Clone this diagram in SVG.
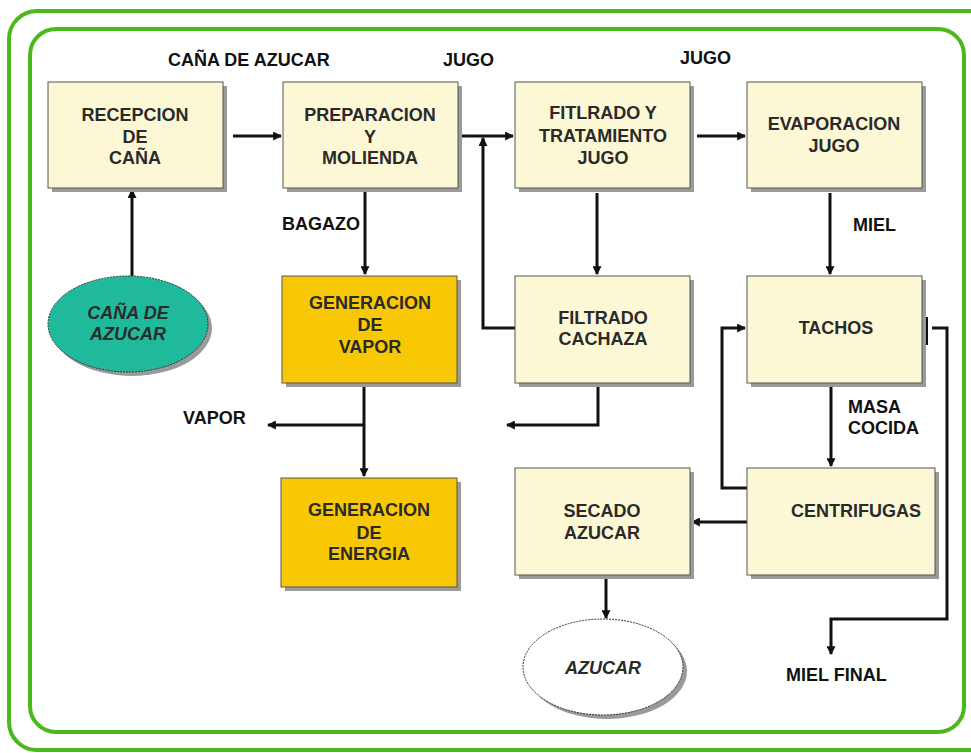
<svg xmlns="http://www.w3.org/2000/svg" width="971" height="753" viewBox="0 0 971 753">
<style>
.box{fill:#fcf8d6;stroke:#555;stroke-width:1}
.gold{fill:#f8c804;stroke:#555;stroke-width:1}
.sh{fill:#9a9a9a}
.t{font-family:"Liberation Sans",Arial,sans-serif;font-weight:bold;font-size:18px;fill:#2a2a2a;text-anchor:middle}
.l{font-family:"Liberation Sans",Arial,sans-serif;font-weight:bold;font-size:18px;fill:#111}
.c{fill:none;stroke:#111;stroke-width:3}
</style>
<defs>
<marker id="ah" viewBox="0 0 8 8" refX="7" refY="4" markerWidth="3" markerHeight="3" orient="auto" markerUnits="strokeWidth">
<path d="M0,0 L8,4 L0,8 z" fill="#111"/>
</marker>
</defs>
<rect width="971" height="753" fill="#fff"/>
<rect x="9" y="11" width="990" height="739" rx="28" fill="none" stroke="#4cb81c" stroke-width="4"/>
<rect x="30" y="29" width="934" height="703" rx="26" fill="none" stroke="#4cb81c" stroke-width="4"/>

<text class="l" x="168" y="66">CAÑA DE AZUCAR</text>
<text class="l" x="443" y="66">JUGO</text>
<text class="l" x="680" y="64">JUGO</text>
<text class="l" x="282" y="230">BAGAZO</text>
<text class="l" x="853" y="231">MIEL</text>
<text class="l" x="183" y="424">VAPOR</text>
<text class="l" x="848" y="413">MASA</text>
<text class="l" x="848" y="434">COCIDA</text>
<text class="l" x="786" y="681">MIEL FINAL</text>

<g id="connectors">
<path class="c" d="M233,136 H281" marker-end="url(#ah)"/>
<path class="c" d="M132,276 V190" marker-end="url(#ah)"/>
<path class="c" d="M460,136 H513" marker-end="url(#ah)"/>
<path class="c" d="M515,328 H483 V138" marker-end="url(#ah)"/>
<path class="c" d="M697,136 H745" marker-end="url(#ah)"/>
<path class="c" d="M597,193 V274" marker-end="url(#ah)"/>
<path class="c" d="M830,193 V274" marker-end="url(#ah)"/>
<path class="c" d="M365,191 V274" marker-end="url(#ah)"/>
<path class="c" d="M364,387 V476" marker-end="url(#ah)"/>
<path class="c" d="M364,425 H268" marker-end="url(#ah)"/>
<path class="c" d="M598,387 V425 H507" marker-end="url(#ah)"/>
<path class="c" d="M831,387 V466" marker-end="url(#ah)"/>
<path class="c" d="M747,488 H722 V328 H745" marker-end="url(#ah)"/>
<path class="c" d="M747,522 H692" marker-end="url(#ah)"/>
<path class="c" d="M606,578 V618" marker-end="url(#ah)"/>
<path d="M926,317 V345" stroke="#111" stroke-width="4" fill="none"/>
<path class="c" d="M932,328 H947 V619 H831 V654" marker-end="url(#ah)"/>
</g>

<g id="recepcion">
<rect class="sh" x="52" y="86" width="175" height="106"/>
<rect class="box" x="48" y="82" width="175" height="106"/>
<text class="t" x="135" y="121">RECEPCION</text>
<text class="t" x="135" y="143">DE</text>
<text class="t" x="135" y="164">CAÑA</text>
</g>
<g id="preparacion">
<rect class="sh" x="287" y="86" width="175" height="106"/>
<rect class="box" x="283" y="82" width="175" height="106"/>
<text class="t" x="370" y="121">PREPARACION</text>
<text class="t" x="370" y="143">Y</text>
<text class="t" x="370" y="164">MOLIENDA</text>
</g>
<g id="fitlrado">
<rect class="sh" x="519" y="86" width="175" height="106"/>
<rect class="box" x="515" y="82" width="175" height="106"/>
<text class="t" x="603" y="119">FITLRADO Y</text>
<text class="t" x="603" y="142">TRATAMIENTO</text>
<text class="t" x="603" y="164">JUGO</text>
</g>
<g id="evaporacion">
<rect class="sh" x="751" y="86" width="175" height="106"/>
<rect class="box" x="747" y="82" width="175" height="106"/>
<text class="t" x="834" y="130">EVAPORACION</text>
<text class="t" x="834" y="152">JUGO</text>
</g>
<g id="cana">
<ellipse cx="132" cy="328" rx="80" ry="48" fill="#9a9a9a"/>
<ellipse cx="128" cy="324" rx="80" ry="48" fill="#1fb99b" stroke="#333" stroke-width="1" stroke-dasharray="2,1"/>
<text class="t" x="128" y="319" font-style="italic">CAÑA DE</text>
<text class="t" x="128" y="340" font-style="italic">AZUCAR</text>
</g>
<g id="vapor">
<rect class="sh" x="286" y="280" width="175" height="107"/>
<rect class="gold" x="282" y="276" width="175" height="107"/>
<text class="t" x="370" y="309">GENERACION</text>
<text class="t" x="370" y="331">DE</text>
<text class="t" x="370" y="353">VAPOR</text>
</g>
<g id="cachaza">
<rect class="sh" x="519" y="280" width="175" height="107"/>
<rect class="box" x="515" y="276" width="175" height="107"/>
<text class="t" x="603" y="324">FILTRADO</text>
<text class="t" x="603" y="345">CACHAZA</text>
</g>
<g id="tachos">
<rect class="sh" x="751" y="280" width="175" height="107"/>
<rect class="box" x="747" y="276" width="175" height="107"/>
<text class="t" x="836" y="334">TACHOS</text>
</g>
<g id="energia">
<rect class="sh" x="285" y="482" width="176" height="109"/>
<rect class="gold" x="281" y="478" width="176" height="109"/>
<text class="t" x="369" y="516">GENERACION</text>
<text class="t" x="369" y="539">DE</text>
<text class="t" x="369" y="560">ENERGIA</text>
</g>
<g id="secado">
<rect class="sh" x="519" y="472" width="175" height="107"/>
<rect class="box" x="515" y="468" width="175" height="107"/>
<text class="t" x="602" y="517">SECADO</text>
<text class="t" x="602" y="539">AZUCAR</text>
</g>
<g id="centrifugas">
<rect class="sh" x="751" y="472" width="188" height="107"/>
<rect class="box" x="747" y="468" width="188" height="107"/>
<text class="t" x="856" y="517">CENTRIFUGAS</text>
</g>
<g id="azucar">
<ellipse cx="607" cy="671" rx="80" ry="48" fill="#9a9a9a"/>
<ellipse cx="603" cy="667" rx="80" ry="48" fill="#fff" stroke="#333" stroke-width="1" stroke-dasharray="2,1"/>
<text class="t" x="603" y="674" font-style="italic">AZUCAR</text>
</g>
</svg>
